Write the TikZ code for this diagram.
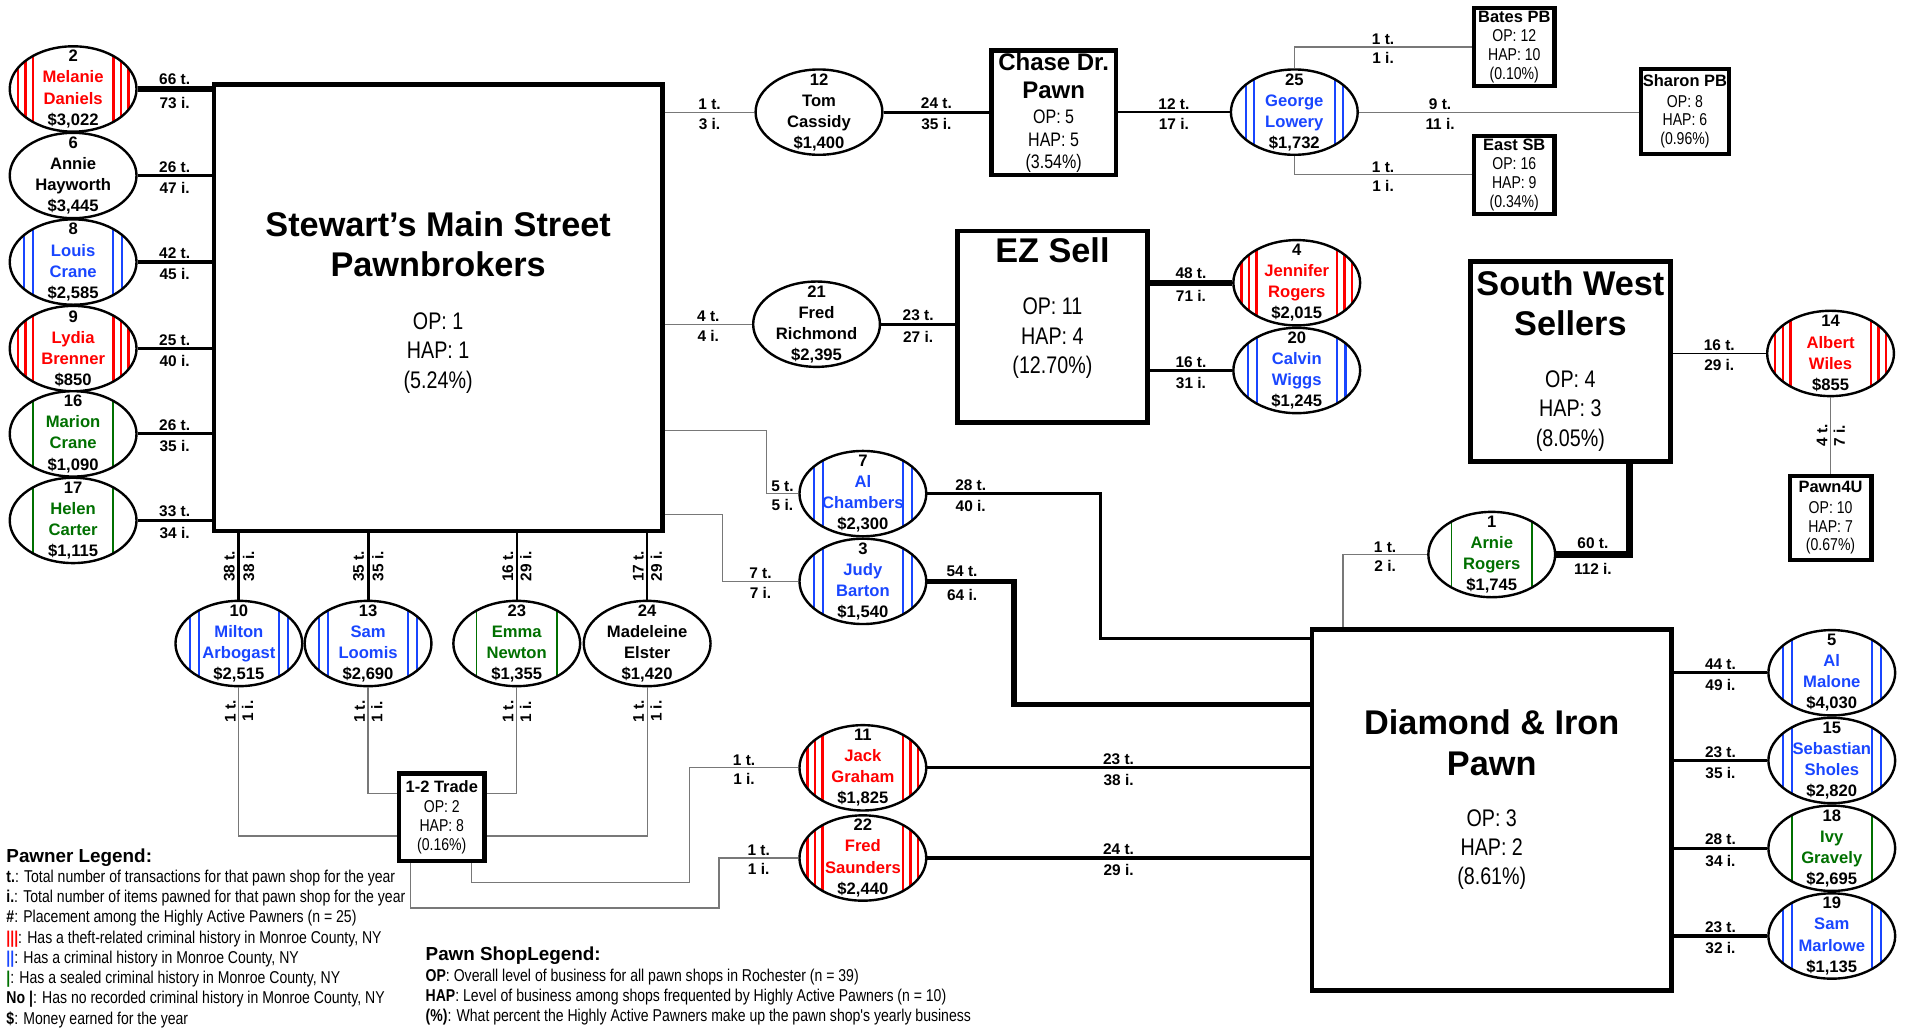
\documentclass[tikz,border=0pt]{standalone}
\usepackage{fontspec}
\setmainfont{Liberation Sans}
\newfontfamily\narrowFont[FakeStretch=0.82]{Liberation Sans}
\usepackage{xcolor}
\usepackage{tikz}
\usetikzlibrary{shapes.geometric,positioning,calc}
\definecolor{theftRed}{RGB}{255,0,0}
\definecolor{crimBlue}{RGB}{25,70,255}
\definecolor{sealGreen}{RGB}{0,112,0}
\definecolor{thinGray}{RGB}{120,120,120}
\newcommand{\pawnFont}{\fontsize{9.7}{12.3}\selectfont\bfseries}
\newcommand{\countFont}{\fontsize{9}{10.5}\selectfont\bfseries}
\newcommand{\bigTitle}{\rmfamily\fontsize{20}{23.4}\selectfont\bfseries}
\newcommand{\midTitle}{\rmfamily\fontsize{14}{16}\selectfont\bfseries}
\newcommand{\smallTitle}{\rmfamily\fontsize{9.6}{12}\selectfont\bfseries}
\newcommand{\bigStat}{\narrowFont\fontsize{14}{17}\selectfont}
\tikzset{
  pawner/.style={ellipse, draw, line width=1.4pt, fill=white,
    minimum width=2.6cm, minimum height=1.75cm,
    inner xsep=-0.2cm, inner ysep=-0.3cm, align=center, font=\pawnFont},
  theft/.style={pawner, path picture={
    \foreach \dx in {-1.135,-0.98,-0.825,0.825,0.98,1.135}
      \draw[theftRed, line width=1.4pt]
        ([xshift=\dx cm]path picture bounding box.south) --
        ([xshift=\dx cm]path picture bounding box.north);}},
  crim/.style={pawner, path picture={
    \foreach \dx in {-1,-0.825,0.825,1}
      \draw[crimBlue, line width=1.2pt]
        ([xshift=\dx cm]path picture bounding box.south) --
        ([xshift=\dx cm]path picture bounding box.north);}},
  sealed/.style={pawner, path picture={
    \foreach \dx in {-0.825,0.825}
      \draw[sealGreen, line width=1.1pt]
        ([xshift=\dx cm]path picture bounding box.south) --
        ([xshift=\dx cm]path picture bounding box.north);}},
  shopbox/.style={rectangle, draw, line width=2.6pt, fill=white,
    inner sep=0pt, align=center},
  smallshop/.style={shopbox, font=\narrowFont\fontsize{10}{10.9}\selectfont},
  linkThin/.style={draw=thinGray, line width=0.7pt},
  linkLight/.style={draw=black, line width=1.1pt},
  linkMid/.style={draw=black, line width=1.8pt},
  linkHeavy/.style={draw=black, line width=3.2pt},
  linkMax/.style={draw=black, line width=4.6pt},
  tLbl/.style={above, inner sep=1pt, font=\countFont},
  iLbl/.style={below, inner sep=3pt, font=\countFont},
  tRot/.style={rotate=90, above, inner sep=1.5pt, font=\countFont},
  iRot/.style={rotate=90, below, inner sep=1.5pt, font=\countFont},
  legendText/.style={anchor=north west, align=left, inner sep=0pt,
    font=\narrowFont\fontsize{10}{11.8}\selectfont}
}

\begin{document}
\begin{tikzpicture}[x=0.025cm, y=-0.025cm]
\useasboundingbox (0,0) rectangle (1568,844);

% pawn shops
\node[shopbox, minimum width=9.2cm, minimum height=9.15cm] (stew) at (359.5,252.5) {};
\node[font=\bigStat, align=center] (stewTxt) at (359.5,248)
  {{\bigTitle Stewart's Main Street}\\[6.4pt]{\bigTitle Pawnbrokers}\\[14.2pt]OP: 1\\HAP: 1\\(5.24\%)};
\node[shopbox, minimum width=3.9cm, minimum height=3.925cm] (ezsell) at (863.5,268) {};
\node[font=\bigStat, align=center] (ezTxt) at (863.5,252.7)
  {{\bigTitle EZ Sell}\\[13.5pt]OP: 11\\HAP: 4\\(12.70\%)};
\node[shopbox, minimum width=4.1cm, minimum height=4.1cm] (sws) at (1288.5,296.5) {};
\node[font=\bigStat, align=center] (swsTxt) at (1288.5,296)
  {{\bigTitle South West}\\[6.4pt]{\bigTitle Sellers}\\[13.5pt]OP: 4\\HAP: 3\\(8.05\%)};
\node[shopbox, minimum width=7.375cm, minimum height=7.4cm] (dip) at (1224,664.5) {};
\node[font=\bigStat, align=center] (dipTxt) at (1224,656)
  {{\bigTitle Diamond \& Iron}\\[7.1pt]{\bigTitle Pawn}\\[12.8pt]OP: 3\\HAP: 2\\(8.61\%)};
\node[shopbox, minimum width=2.55cm, minimum height=2.55cm,
      font=\narrowFont\fontsize{11.4}{13.1}\selectfont] (chase) at (864.5,92.5)
  {{\midTitle Chase Dr.}\\[3.2pt]{\midTitle Pawn}\\[1.8pt]OP: 5\\HAP: 5\\(3.54\%)};
\node[smallshop, minimum width=1.65cm, minimum height=1.6cm] (bates) at (1242.5,38.5)
  {{\smallTitle Bates PB}\\[0.5pt]OP: 12\\HAP: 10\\(0.10\%)};
\node[smallshop, minimum width=1.65cm, minimum height=1.6cm] (eastsb) at (1242.5,143.5)
  {{\smallTitle East SB}\\[0.5pt]OP: 16\\HAP: 9\\(0.34\%)};
\node[smallshop, minimum width=1.8cm, minimum height=1.75cm] (sharon) at (1382.5,91.5)
  {{\smallTitle Sharon PB}\\[1pt]OP: 8\\HAP: 6\\(0.96\%)};
\node[smallshop, minimum width=1.675cm, minimum height=1.725cm] (pawn4u) at (1502,425)
  {{\smallTitle Pawn4U}\\[1pt]OP: 10\\HAP: 7\\(0.67\%)};
\node[smallshop, minimum width=1.75cm, minimum height=1.8cm] (trade) at (362.5,670.5)
  {{\smallTitle 1-2 Trade}\\[1pt]OP: 2\\HAP: 8\\(0.16\%)};

% pawners
\node[theft] (mel) at (60,73) {2\\\textcolor{theftRed}{Melanie}\\\textcolor{theftRed}{Daniels}\\\$3,022};
\node[pawner] (annie) at (60,144) {6\\Annie\\Hayworth\\\$3,445};
\node[crim] (louis) at (60,215) {8\\\textcolor{crimBlue}{Louis}\\\textcolor{crimBlue}{Crane}\\\$2,585};
\node[theft] (lydia) at (60,286) {9\\\textcolor{theftRed}{Lydia}\\\textcolor{theftRed}{Brenner}\\\$850};
\node[sealed] (marion) at (60,356) {16\\\textcolor{sealGreen}{Marion}\\\textcolor{sealGreen}{Crane}\\\$1,090};
\node[sealed] (helen) at (60,427) {17\\\textcolor{sealGreen}{Helen}\\\textcolor{sealGreen}{Carter}\\\$1,115};
\node[pawner] (tom) at (672,92) {12\\Tom\\Cassidy\\\$1,400};
\node[crim] (george) at (1062,92) {25\\\textcolor{crimBlue}{George}\\\textcolor{crimBlue}{Lowery}\\\$1,732};
\node[pawner] (fredr) at (670,266) {21\\Fred\\Richmond\\\$2,395};
\node[theft] (jen) at (1064,232) {4\\\textcolor{theftRed}{Jennifer}\\\textcolor{theftRed}{Rogers}\\\$2,015};
\node[crim] (calvin) at (1064,304) {20\\\textcolor{crimBlue}{Calvin}\\\textcolor{crimBlue}{Wiggs}\\\$1,245};
\node[theft] (albert) at (1502,290) {14\\\textcolor{theftRed}{Albert}\\\textcolor{theftRed}{Wiles}\\\$855};
\node[crim] (alch) at (708,405) {7\\\textcolor{crimBlue}{Al}\\\textcolor{crimBlue}{Chambers}\\\$2,300};
\node[crim] (judy) at (708,477) {3\\\textcolor{crimBlue}{Judy}\\\textcolor{crimBlue}{Barton}\\\$1,540};
\node[sealed] (arnie) at (1224,455) {1\\\textcolor{sealGreen}{Arnie}\\\textcolor{sealGreen}{Rogers}\\\$1,745};
\node[crim] (milton) at (196,528) {10\\\textcolor{crimBlue}{Milton}\\\textcolor{crimBlue}{Arbogast}\\\$2,515};
\node[crim] (saml) at (302,528) {13\\\textcolor{crimBlue}{Sam}\\\textcolor{crimBlue}{Loomis}\\\$2,690};
\node[sealed] (emma) at (424,528) {23\\\textcolor{sealGreen}{Emma}\\\textcolor{sealGreen}{Newton}\\\$1,355};
\node[pawner] (madel) at (531,528) {24\\Madeleine\\Elster\\\$1,420};
\node[theft] (jack) at (708,630) {11\\\textcolor{theftRed}{Jack}\\\textcolor{theftRed}{Graham}\\\$1,825};
\node[theft] (freds) at (708,704) {22\\\textcolor{theftRed}{Fred}\\\textcolor{theftRed}{Saunders}\\\$2,440};
\node[crim] (almal) at (1503,552) {5\\\textcolor{crimBlue}{Al}\\\textcolor{crimBlue}{Malone}\\\$4,030};
\node[crim] (seb) at (1503,624) {15\\\textcolor{crimBlue}{Sebastian}\\\textcolor{crimBlue}{Sholes}\\\$2,820};
\node[sealed] (ivy) at (1503,696) {18\\\textcolor{sealGreen}{Ivy}\\\textcolor{sealGreen}{Gravely}\\\$2,695};
\node[crim] (samm) at (1503,768) {19\\\textcolor{crimBlue}{Sam}\\\textcolor{crimBlue}{Marlowe}\\\$1,135};

% bends
\coordinate (milBend) at (196,686);
\coordinate (samBend) at (302,651);
\coordinate (emmaBend) at (424,651);
\coordinate (madBend) at (531,686);
\coordinate (alIn) at (629,353);
\coordinate (judyIn) at (593,422);
\coordinate (alOut) at (903,524);
\coordinate (judyOut) at (832,578);
\coordinate (jackBend) at (566,724);
\coordinate (jackDrop) at (387,724);
\coordinate (fredBend) at (590,745);
\coordinate (fredDrop) at (337,745);
\coordinate (arnieUp) at (1337,455);
\coordinate (arnieDown) at (1102,455);

% Stewart's links
\draw[linkHeavy] (mel.east) -- node[tLbl]{66 t.} node[iLbl]{73 i.} (mel.east -| stew.west);
\draw[linkMid] (annie.east) -- node[tLbl]{26 t.} node[iLbl]{47 i.} (annie.east -| stew.west);
\draw[linkMid] (louis.east) -- node[tLbl]{42 t.} node[iLbl]{45 i.} (louis.east -| stew.west);
\draw[linkMid] (lydia.east) -- node[tLbl]{25 t.} node[iLbl]{40 i.} (lydia.east -| stew.west);
\draw[linkMid] (marion.east) -- node[tLbl]{26 t.} node[iLbl]{35 i.} (marion.east -| stew.west);
\draw[linkMid] (helen.east) -- node[tLbl]{33 t.} node[iLbl]{34 i.} (helen.east -| stew.west);
\draw[linkMid] (milton.north |- stew.south) -- node[tRot]{38 t.} node[iRot]{38 i.} (milton.north);
\draw[linkMid] (saml.north |- stew.south) -- node[tRot]{35 t.} node[iRot]{35 i.} (saml.north);
\draw[linkLight] (emma.north |- stew.south) -- node[tRot]{16 t.} node[iRot]{29 i.} (emma.north);
\draw[linkLight] (madel.north |- stew.south) -- node[tRot]{17 t.} node[iRot]{29 i.} (madel.north);
\draw[linkThin] (tom.west -| stew.east) -- node[tLbl]{1 t.} node[iLbl]{3 i.} (tom.west);
\draw[linkThin] (fredr.west -| stew.east) -- node[tLbl]{4 t.} node[iLbl]{4 i.} (fredr.west);
\draw[linkThin] (alIn -| stew.east) -- (alIn) |- node[tLbl,pos=0.75]{5 t.} node[iLbl,pos=0.75]{5 i.} (alch.west);
\draw[linkThin] (judyIn -| stew.east) -- (judyIn) |- node[tLbl,pos=0.75]{7 t.} node[iLbl,pos=0.75]{7 i.} (judy.west);

% 1-2 Trade links
\draw[linkThin] (milton.south) -- node[tRot,pos=0.16]{1 t.} node[iRot,pos=0.16]{1 i.} (milBend) -- (milBend -| trade.west);
\draw[linkThin] (saml.south) -- node[tRot,pos=0.23]{1 t.} node[iRot,pos=0.23]{1 i.} (samBend) -- (samBend -| trade.west);
\draw[linkThin] (emma.south) -- node[tRot,pos=0.23]{1 t.} node[iRot,pos=0.23]{1 i.} (emmaBend) -- (emmaBend -| trade.east);
\draw[linkThin] (madel.south) -- node[tRot,pos=0.16]{1 t.} node[iRot,pos=0.16]{1 i.} (madBend) -- (madBend -| trade.east);
\draw[linkThin] (jack.west) -| node[tLbl,pos=0.25]{1 t.} node[iLbl,pos=0.25]{1 i.} (jackBend) -- (jackDrop) -- (jackDrop |- trade.south);
\draw[linkThin] (freds.west) -| node[tLbl,pos=0.25]{1 t.} node[iLbl,pos=0.25]{1 i.} (fredBend) -- (fredDrop) -- (fredDrop |- trade.south);

% Chase Dr. and George
\draw[linkMid] (tom.east) -- node[tLbl]{24 t.} node[iLbl]{35 i.} (tom.east -| chase.west);
\draw[linkLight] (george.west -| chase.east) -- node[tLbl]{12 t.} node[iLbl]{17 i.} (george.west);
\draw[linkThin] (george.north) |- node[tLbl,pos=0.75]{1 t.} node[iLbl,pos=0.75]{1 i.} (bates.west);
\draw[linkThin] (george.south) |- node[tLbl,pos=0.75]{1 t.} node[iLbl,pos=0.75]{1 i.} (eastsb.west);
\draw[linkThin] (george.east) -- node[tLbl,pos=0.29]{9 t.} node[iLbl,pos=0.29]{11 i.} (george.east -| sharon.west);

% EZ Sell
\draw[linkMid] (fredr.east) -- node[tLbl]{23 t.} node[iLbl]{27 i.} (fredr.east -| ezsell.west);
\draw[linkHeavy] (jen.west -| ezsell.east) -- node[tLbl]{48 t.} node[iLbl]{71 i.} (jen.west);
\draw[linkMid] (calvin.west -| ezsell.east) -- node[tLbl]{16 t.} node[iLbl]{31 i.} (calvin.west);

% South West Sellers
\draw[linkLight] (albert.west -| sws.east) -- node[tLbl]{16 t.} node[iLbl]{29 i.} (albert.west);
\draw[linkThin] (albert.south) -- node[tRot]{4 t.} node[iRot]{7 i.} (pawn4u.north);
\draw[linkMax] (arnie.east) -- node[tLbl]{60 t.} node[iLbl]{112 i.} (arnieUp) -- (arnieUp |- sws.south);
\draw[linkThin] (arnie.west) -- node[tLbl]{1 t.} node[iLbl]{2 i.} (arnieDown) -- (arnieDown |- dip.north);

% Diamond & Iron
\draw[linkMid] (alch.east) -| node[tLbl,pos=0.125]{28 t.} node[iLbl,pos=0.125]{40 i.} (alOut) -- (alOut -| dip.west);
\draw[linkHeavy] (judy.east) -| node[tLbl,pos=0.2]{54 t.} node[iLbl,pos=0.2]{64 i.} (judyOut) -- (judyOut -| dip.west);
\draw[linkMid] (jack.east) -- node[tLbl]{23 t.} node[iLbl]{38 i.} (jack.east -| dip.west);
\draw[linkMid] (freds.east) -- node[tLbl]{24 t.} node[iLbl]{29 i.} (freds.east -| dip.west);
\draw[linkMid] (almal.west -| dip.east) -- node[tLbl]{44 t.} node[iLbl]{49 i.} (almal.west);
\draw[linkMid] (seb.west -| dip.east) -- node[tLbl]{23 t.} node[iLbl]{35 i.} (seb.west);
\draw[linkMid] (ivy.west -| dip.east) -- node[tLbl]{28 t.} node[iLbl]{34 i.} (ivy.west);
\draw[linkMid] (samm.west -| dip.east) -- node[tLbl]{23 t.} node[iLbl]{32 i.} (samm.west);

% legends
\node[legendText] (pawnerLegend) at (5,696)
  {{\rmfamily\bfseries\fontsize{11}{12}\selectfont Pawner Legend:}\\
   \textbf{t.}: Total number of transactions for that pawn shop for the year\\
   \textbf{i.}: Total number of items pawned for that pawn shop for the year\\
   \textbf{\#}: Placement among the Highly Active Pawners (n = 25)\\
   \textcolor{theftRed}{\textbf{|||}}: Has a theft-related criminal history in Monroe County, NY\\
   \textcolor{crimBlue}{\textbf{||}}: Has a criminal history in Monroe County, NY\\
   \textcolor{sealGreen}{\textbf{|}}: Has a sealed criminal history in Monroe County, NY\\
   \textbf{No |}: Has no recorded criminal history in Monroe County, NY\\
   \textbf{\$}: Money earned for the year};
\node[legendText] (shopLegend) at (349,777)
  {{\rmfamily\bfseries\fontsize{11}{12}\selectfont Pawn ShopLegend:}\\
   \textbf{OP}: Overall level of business for all pawn shops in Rochester (n = 39)\\
   \textbf{HAP}: Level of business among shops frequented by Highly Active Pawners (n = 10)\\
   \textbf{(\%)}: What percent the Highly Active Pawners make up the pawn shop's yearly business};
\end{tikzpicture}
\end{document}
